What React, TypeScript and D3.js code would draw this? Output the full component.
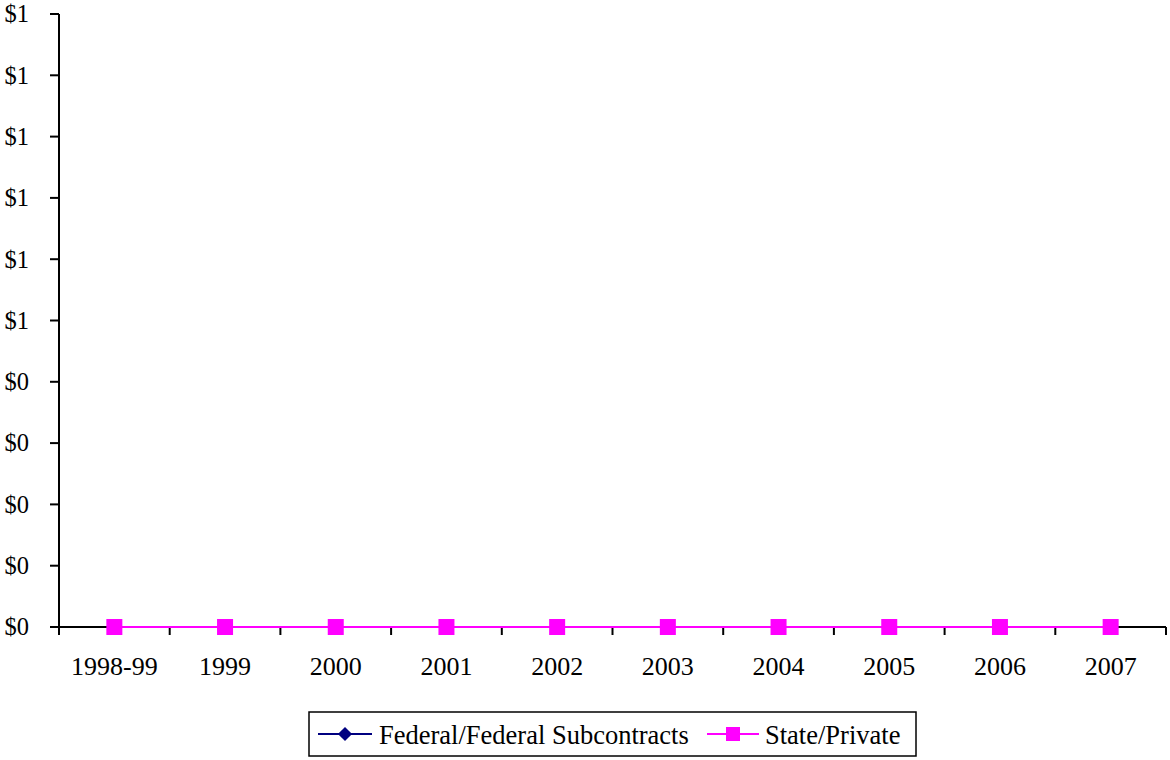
import React from "react";
import * as d3 from "d3";

const categories = ["1998-99", "1999", "2000", "2001", "2002", "2003", "2004", "2005", "2006", "2007"];
const federalValues = [0, 0, 0, 0, 0, 0, 0, 0, 0, 0];
const statePrivateValues = [0, 0, 0, 0, 0, 0, 0, 0, 0, 0];
const yTicks = [0, 0.1, 0.2, 0.3, 0.4, 0.5, 0.6, 0.7, 0.8, 0.9, 1.0];
const seriesNames = ["Federal/Federal Subcontracts", "State/Private"];

const W = 1170;
const H = 760;
const left = 59;
const right = 1166;
const top = 14;
const bottom = 627;
const FONT = "'Liberation Serif', 'Times New Roman', serif";
const NAVY = "#000080";
const PINK = "#FF00FF";

export default function App() {
  const x = d3.scaleBand<string>().domain(categories).range([left, right]);
  const y = d3.scaleLinear().domain([0, 1]).range([bottom, top]);
  const fmt = d3.format("$.0f");
  const cx = (c: string) => (x(c) as number) + x.bandwidth() / 2;
  const line = d3
    .line<number>()
    .x((_, i) => cx(categories[i]))
    .y((d) => y(d));
  const diamond = d3.symbol().type(d3.symbolSquare).size(100)();

  return (
    <svg
      width={W}
      height={H}
      style={{ position: "absolute", left: 0, top: 0, background: "#fff" }}
      fontFamily={FONT}
    >
      {/* y axis */}
      <line x1={left} x2={left} y1={top} y2={bottom} stroke="#000" strokeWidth={2} />
      {yTicks.map((t) => (
        <g key={t}>
          <line x1={left - 9} x2={left} y1={y(t)} y2={y(t)} stroke="#000" strokeWidth={2} />
          <text x={29} y={y(t)} dy="0.34em" textAnchor="end" fontSize={24.5} fill="#000">
            {fmt(t)}
          </text>
        </g>
      ))}
      {/* x axis */}
      <line x1={left} x2={right} y1={bottom} y2={bottom} stroke="#000" strokeWidth={2} />
      {d3.range(categories.length + 1).map((i) => {
        const xx = left + i * x.bandwidth();
        return <line key={i} x1={xx} x2={xx} y1={bottom} y2={bottom + 8} stroke="#000" strokeWidth={2} />;
      })}
      {categories.map((c) => (
        <text key={c} x={cx(c)} y={675} textAnchor="middle" fontSize={26} fill="#000">
          {c}
        </text>
      ))}
      {/* federal series */}
      <path d={line(federalValues) || ""} fill="none" stroke={NAVY} strokeWidth={2} />
      {federalValues.map((v, i) => (
        <path
          key={i}
          d={diamond || ""}
          transform={`translate(${cx(categories[i])},${y(v)}) rotate(45)`}
          fill={NAVY}
        />
      ))}
      {/* state/private series */}
      <path d={line(statePrivateValues) || ""} fill="none" stroke={PINK} strokeWidth={2} />
      {statePrivateValues.map((v, i) => (
        <rect key={i} x={cx(categories[i]) - 8} y={y(v) - 8} width={16} height={16} fill={PINK} />
      ))}
      {/* legend */}
      <rect x={309} y={712} width={607} height={44} fill="#fff" stroke="#000" strokeWidth={1.5} />
      <line x1={318} x2={372} y1={734} y2={734} stroke={NAVY} strokeWidth={2} />
      <path d={diamond || ""} transform="translate(345,734) rotate(45)" fill={NAVY} />
      <text x={379} y={744} fontSize={26.5} fill="#000">
        {seriesNames[0]}
      </text>
      <line x1={707} x2={759} y1={734} y2={734} stroke={PINK} strokeWidth={2} />
      <rect x={726} y={727} width={14} height={14} fill={PINK} />
      <text x={765} y={744} fontSize={26.5} fill="#000">
        {seriesNames[1]}
      </text>
    </svg>
  );
}
